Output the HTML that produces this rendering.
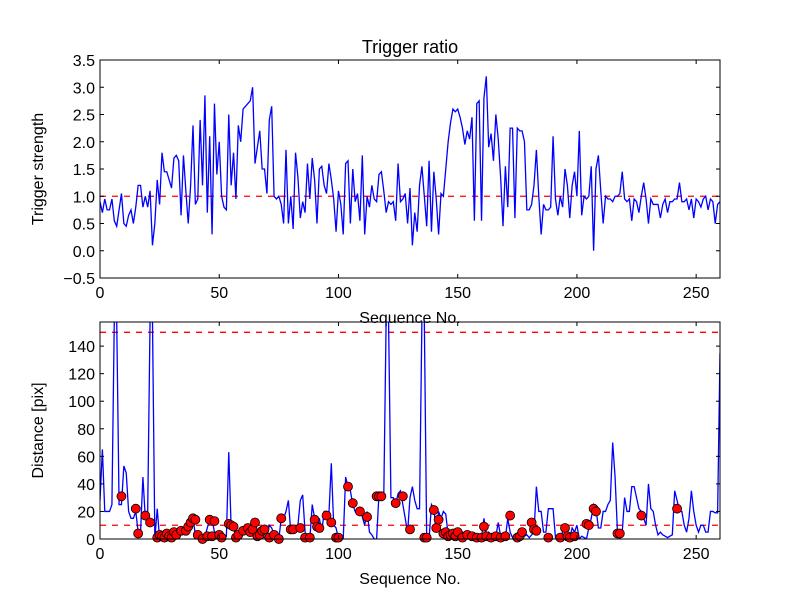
<!DOCTYPE html>
<html><head><meta charset="utf-8"><style>
body{margin:0;background:#fff;}
svg{display:block;font-family:"Liberation Sans","DejaVu Sans",sans-serif;}
</style></head><body>
<svg id="chart" width="800" height="600" viewBox="0 0 800 600" xmlns="http://www.w3.org/2000/svg">
<rect x="0" y="0" width="800" height="600" fill="#fff"/>
<text x="410" y="53" font-size="18" text-anchor="middle">Trigger ratio</text>
<g id="top"></g>
<g id="bot"></g>
</svg>
<script>
const triggerStrength=[0.9,0.7,0.95,0.75,0.75,0.95,0.55,0.45,0.75,1.05,0.5,0.45,0.65,0.75,0.5,0.8,1.2,1.2,0.8,1.0,0.8,
1.1,0.1,0.5,1.3,0.85,1.8,1.45,1.45,1.3,1.15,1.7,1.75,1.65,0.65,1.75,1.1,0.5,1.2,2.3,0.85,0.95,2.4,1.2,2.85,0.7,2.1,0.3,2.7,1.4,2.0,
1.0,0.8,0.75,2.5,1.2,1.8,0.95,2.3,2.0,2.6,2.65,2.7,2.75,3.0,1.6,1.9,2.2,1.5,1.5,1.05,2.4,2.65,1.0,0.95,1.0,0.85,0.5,1.85,0.5,1.0,
0.4,1.8,1.35,0.6,0.9,0.7,1.6,0.95,1.7,1.3,0.5,1.5,1.55,1.2,1.05,1.6,1.3,0.95,0.35,1.1,0.85,0.3,1.6,1.65,0.5,1.5,0.9,1.05,0.55,1.75,
0.3,1.0,0.8,1.2,0.95,0.9,1.4,1.45,1.1,0.7,0.9,0.85,0.9,0.55,1.6,0.9,0.95,1.05,0.5,1.15,0.1,0.7,0.35,1.2,1.55,1.0,0.45,1.65,0.35,1.45,
0.95,0.3,1.05,1.0,1.5,2.0,2.35,2.6,2.55,2.6,2.45,2.25,1.95,2.2,2.05,2.45,0.55,2.7,2.75,0.55,2.8,3.2,1.9,2.15,1.65,2.5,2.05,1.35,0.45,1.55,
0.8,2.25,2.25,0.6,2.25,2.2,2.2,2.0,0.75,0.75,0.85,1.2,1.85,1.0,0.3,0.85,0.75,0.75,0.8,2.1,0.95,0.65,1.0,0.8,1.5,1.2,0.6,1.2,1.45,1.0,
2.2,0.65,1.0,0.95,1.0,1.55,0.0,1.5,1.75,1.1,0.5,1.0,0.95,0.95,0.9,1.0,1.0,1.05,1.45,0.95,0.9,0.95,0.55,0.95,0.9,0.7,1.0,1.25,0.95,0.5,
0.95,0.85,0.85,0.85,0.6,0.85,0.95,0.7,0.9,0.9,0.95,0.95,1.25,0.9,0.9,0.95,0.75,0.95,0.6,0.95,0.9,0.8,0.95,1.0,0.75,0.95,0.9,0.5,0.85,0.9];
const distance=[28,65,20,20,20,25,160,160,25,25,53,48,20,15,15,20,5,5,45,15,20,160,160,0,22,0,3,3,2,5,3,2,4,8,5,4,6,10,14,15,3,1,2,1,2,8,15,14,5,5,3,1,0,2,63,8,8,1,3,2,5,6,8,5,10,14,2,5,2,1,2,10,8,3,1,0,15,15,20,28,5,5,7,10,28,32,5,0,0,25,15,10,15,5,20,20,18,55,10,8,0,1,0,45,38,35,25,20,22,22,16,10,20,5,3,0,0,33,32,30,160,160,30,30,25,33,35,25,15,5,30,38,28,22,22,160,160,0,0,25,22,5,20,15,20,18,3,3,3,3,3,3,5,2,1,2,2,1,1,1,1,15,3,5,2,1,2,12,2,3,1,15,5,1,2,3,2,1,2,3,1,3,5,38,20,20,5,5,22,22,22,1,1,2,5,10,3,1,8,5,10,0,2,1,0,8,15,25,22,8,8,20,20,25,28,70,45,5,0,5,30,20,20,38,38,30,22,20,15,10,40,22,20,10,3,5,3,2,1,2,3,35,28,20,20,10,5,15,35,20,10,5,10,10,5,5,20,20,19,19,135];
const markerSeq=[9,15,16,19,21,24,25,26,27,28,29,30,31,32,34,36,37,38,39,40,41,43,45,46,47,48,50,51,54,55,56,57,58,60,62,63,64,65,66,67,68,69,71,73,75,76,80,81,84,86,88,90,91,92,95,97,99,100,104,106,109,112,116,117,118,124,127,130,136,137,140,141,142,144,145,146,147,148,149,150,152,154,156,158,160,161,162,164,166,168,170,172,175,176,177,181,182,183,188,193,195,196,197,199,204,205,207,208,217,218,227,242];
const markerDist=[31,22,4,17,12,1,3,2,1,4,2,1,5,3,6,6,9,12,15,14,3,0,2,14,2,13,3,1,11,10,9,1,3,6,8,5,7,12,2,3,6,7,1,3,0,15,7,7,8,1,1,14,9,8,17,12,1,1,38,26,20,16,31,31,31,26,31,7,1,1,21,8,14,4,5,2,3,4,2,5,1,3,2,1,1,9,2,1,2,1,2,17,1,2,5,12,7,6,1,1,8,2,1,2,11,10,22,20,4,4,17,22];
const xTicks=[0,50,100,150,200,250];
const topTicks=[-0.5,0,0.5,1,1.5,2,2.5,3,3.5];
const botTicks=[0,20,40,60,80,100,120,140];
const triggerThreshold=[1.0];
const distThresholds=[10,150];

const NS='http://www.w3.org/2000/svg';
const L=100,R=720;
function mk(tag,at,parent){const e=document.createElementNS(NS,tag);for(const k in at)e.setAttribute(k,at[k]);parent.appendChild(e);return e;}
const xs=v=>L+(v-0)/(260-0)*(R-L);

function panel(g,T,B,ymin,ymax,name){
  const ys=v=>B-(v-ymin)/(ymax-ymin)*(B-T);
  const cp=mk('clipPath',{id:'clip-'+name},g);
  mk('rect',{x:L,y:T,width:R-L,height:B-T},cp);
  return ys;
}
function frame(g,T,B,ys,ticks,fmt,ylabel,name){
  xTicks.forEach(v=>{
    const t=mk('line',{x1:xs(v),x2:xs(v),y1:B,y2:B-4,stroke:'#000'},g);
    
    
    mk('line',{x1:xs(v),x2:xs(v),y1:T,y2:T+4,stroke:'#000'},g);
    const tl=mk('text',{x:xs(v),y:B+20,'font-size':16,'text-anchor':'middle'},g);
    tl.textContent=v;
    
    
  });
  ticks.forEach(v=>{
    const y=ys(v);
    mk('line',{x1:L,x2:L+4,y1:y,y2:y,stroke:'#000'},g);
    mk('line',{x1:R,x2:R-4,y1:y,y2:y,stroke:'#000'},g);
    const tl=mk('text',{x:L-5,y:y+6,'font-size':16,'text-anchor':'end'},g);
    tl.textContent=fmt(v);
    
    
  });
  const fr=mk('rect',{x:L,y:T,width:R-L,height:B-T,fill:'none',stroke:'#000','stroke-width':1},g);
  
  
  const xl=mk('text',{x:410,y:B+45,'font-size':16,'text-anchor':'middle'},g);
  xl.textContent='Sequence No.';
  
  
  const cy=(T+B)/2;
  const yl=mk('text',{x:0,y:0,'font-size':16,'text-anchor':'middle',transform:'translate(43,'+cy+') rotate(-90)'},g);
  yl.textContent=ylabel;
  
  
}

const gt=document.getElementById('top');
const T1=60,B1=278;
const ys1=panel(gt,T1,B1,-0.5,3.5,'top');
triggerThreshold.forEach(v=>{
  const l=mk('line',{x1:L,x2:R,y1:ys1(v),y2:ys1(v),stroke:'#f00','stroke-width':1.3,'stroke-dasharray':'6,6'},gt);
  
  
});
const p1=mk('polyline',{points:triggerStrength.map((v,i)=>xs(i)+','+ys1(v)).join(' '),fill:'none',stroke:'#00f','stroke-width':1.3,'clip-path':'url(#clip-top)'},gt);


frame(gt,T1,B1,ys1,topTicks,v=>v.toFixed(1).replace('-','\u2212'),'Trigger strength','top');

const gb=document.getElementById('bot');
const T2=322,B2=539;
const ys2=panel(gb,T2,B2,0,157.5,'bot');
distThresholds.forEach(v=>{
  const l=mk('line',{x1:L,x2:R,y1:ys2(v),y2:ys2(v),stroke:'#f00','stroke-width':1.3,'stroke-dasharray':'6,6'},gb);
  
  
});
const p2=mk('polyline',{points:distance.map((v,i)=>xs(i)+','+ys2(v)).join(' '),fill:'none',stroke:'#00f','stroke-width':1.3,'clip-path':'url(#clip-bot)'},gb);


markerSeq.forEach((s,i)=>{
  const c=mk('circle',{cx:xs(s),cy:ys2(markerDist[i]),r:4.5,fill:'#f00',stroke:'#000','stroke-width':0.8},gb);
  
  
});
frame(gb,T2,B2,ys2,botTicks,v=>String(v),'Distance [pix]','bot');
</script>
</body></html>
